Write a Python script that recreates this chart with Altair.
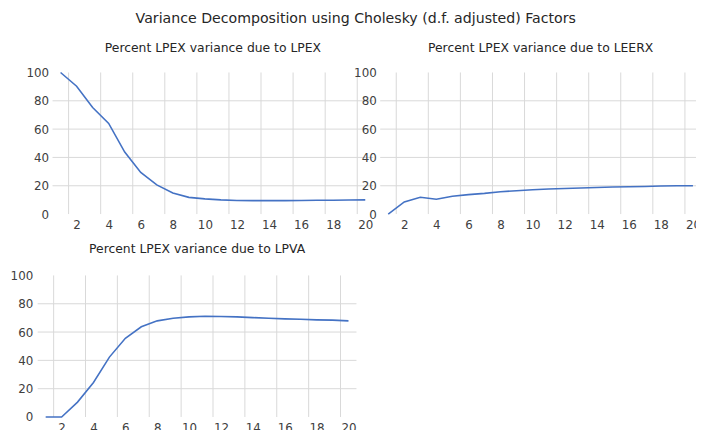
import altair as alt
import pandas as pd

periods = list(range(1, 21))
lpex = [100, 90.3, 75.2, 64.0, 43.8, 29.4, 20.6, 14.9, 11.8, 10.7, 10.0, 9.6, 9.5, 9.5, 9.5, 9.6, 9.7, 9.8, 9.9, 10.0]
leerx = [0, 8.6, 11.9, 10.5, 12.6, 13.7, 14.6, 15.8, 16.5, 17.2, 17.7, 18.1, 18.4, 18.8, 19.1, 19.3, 19.5, 19.8, 20.0, 20.0]
lpva = [0, 0, 10.5, 24.4, 42.3, 55.6, 63.7, 67.9, 69.8, 70.7, 71.2, 71.0, 70.7, 70.2, 69.8, 69.3, 69.0, 68.6, 68.4, 67.9]

titles = ["Percent LPEX variance due to LPEX",
          "Percent LPEX variance due to LEERX",
          "Percent LPEX variance due to LPVA"]
main_title = "Variance Decomposition using Cholesky (d.f. adjusted) Factors"
x_labels = [2, 4, 6, 8, 10, 12, 14, 16, 18, 20]
y_labels = [0, 20, 40, 60, 80, 100]
y_grid = [20, 40, 60, 80]

FONT = "DejaVu Sans"
LINE = "#4472C4"
GRID = "#D9D9D9"
TXT = "#404040"

vgrid_df = pd.DataFrame({"g": [v - 0.5 for v in x_labels]})
hgrid_df = pd.DataFrame({"h": y_grid})


def panel(values, title, w, ypad, toff):
    df = pd.DataFrame({"period": periods, "value": values})
    xsc = alt.Scale(domain=[0.5, 20.5], nice=False, zero=False)
    ysc = alt.Scale(domain=[0, 100], nice=False)
    xax = alt.Axis(values=x_labels, grid=False, ticks=False, domain=False,
                   labelFont=FONT, labelFontSize=12, labelColor=TXT,
                   labelPadding=6, title=None, labelFlush=False)
    yax = alt.Axis(values=y_labels, grid=False, ticks=False, domain=False,
                   labelFont=FONT, labelFontSize=12, labelColor=TXT,
                   labelPadding=ypad, title=None, labelFlush=False)
    vgrid = alt.Chart(vgrid_df).mark_rule(color=GRID, strokeWidth=1).encode(
        x=alt.X("g:Q", scale=xsc, axis=xax)
    )
    hgrid = alt.Chart(hgrid_df).mark_rule(color=GRID, strokeWidth=1).encode(
        y=alt.Y("h:Q", scale=ysc, axis=yax)
    )
    line = alt.Chart(df).mark_line(color=LINE, strokeWidth=1.6).encode(
        x=alt.X("period:Q", scale=xsc, axis=xax),
        y=alt.Y("value:Q", scale=ysc, axis=yax),
    )
    return alt.layer(vgrid, hgrid, line).properties(
        width=w, height=143,
        title=alt.TitleParams(title, font=FONT, fontSize=12.5, fontWeight="normal",
                              color="#262626", anchor="middle", offset=toff),
    )


p1 = panel(lpex, titles[0], 324, 4, 12)
p2 = panel(leerx, titles[1], 324, 4, 12)
p3 = panel(lpva, titles[2], 322, 5, 14)

spacer = alt.Chart(pd.DataFrame({"s": [0]})).mark_point(opacity=0).encode(
    x=alt.X("s:Q", axis=None), y=alt.Y("s:Q", axis=None)
).properties(width=8, height=10)

row1 = alt.hconcat(spacer, p1, p2, spacing=7, bounds="flush")
chart = alt.vconcat(row1, p3, spacing=12, bounds="full").properties(
    title=alt.TitleParams(main_title, font=FONT, fontSize=14.3, fontWeight="normal",
                          color="#262626", anchor="middle", offset=16),
    padding={"left": 2, "top": 2, "right": -6, "bottom": -6},
).configure_view(stroke=None)

chart.save("out.html", embed_options={"renderer": "svg", "actions": False})
